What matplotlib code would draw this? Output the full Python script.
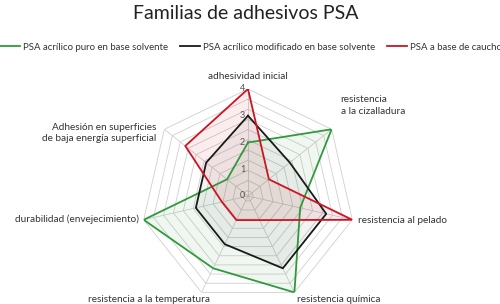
import matplotlib.pyplot as plt
import matplotlib.lines as mlines
import numpy as np

plt.rcParams['font.family'] = ['Lato', 'DejaVu Sans']

## ======= data ======== ##
categories = ['adhesividad inicial', 'resistencia\na la cizalladura', 'resistencia al pelado',
              'resistencia química', 'resistencia a la temperatura',
              'durabilidad (envejecimiento)', 'Adhesión en superficies\nde baja energía superficial']
series_names = ['PSA acrílico puro en base solvente',
                'PSA acrílico modificado en base solvente',
                'PSA a base de caucho']
acrilico_puro = [2, 4, 2, 4, 3, 4, 1]
acrilico_mod = [3, 2, 3, 3, 2, 2, 2]
caucho = [4, 1, 4, 1, 1, 1, 3]
tick_values = [0, 1, 2, 3, 4]

colors = ['#2f9a3c', '#1a1a1a', '#cc1424']
fill_alpha = [0.07, 0.05, 0.08]

n = len(categories)
theta = np.linspace(0, 2 * np.pi, n, endpoint=False)
theta_c = np.append(theta, theta[0])

fig = plt.figure(figsize=(5, 3.04), dpi=100)
ax = fig.add_axes([0.282, 0.0033, 0.428, 0.704], projection='polar')
ax.set_theta_offset(np.pi / 2)
ax.set_theta_direction(-1)
ax.set_ylim(0, 4)
ax.grid(False)
ax.spines['polar'].set_visible(False)
ax.set_xticks([])
ax.set_yticks([])
ax.patch.set_alpha(0)

# polygon grid
for r in np.linspace(0.2, 4.0, 11):
    ax.plot(theta_c, [r] * (n + 1), color='#cfcfcf', lw=0.6, zorder=1)
for t in theta:
    ax.plot([t, t], [0, 4], color='#cfcfcf', lw=0.6, zorder=1)

handles = []
for vals, name, c, al in zip([acrilico_puro, acrilico_mod, caucho], series_names, colors, fill_alpha):
    v = np.append(vals, vals[0])
    ax.fill(theta_c, v, color=c, alpha=al, lw=0, zorder=2)
    ax.plot(theta_c, v, color=c, lw=1.3, zorder=3)
    handles.append(mlines.Line2D([], [], color=c, lw=1.3, label=name))

for tv in tick_values:
    ax.annotate(str(tv), xy=(0, tv), xytext=(-2, 0), textcoords='offset points',
                ha='right', va='center', fontsize=6.5, color='#555555', zorder=4)

# category labels: (offset x, offset y, ha) in points
label_pos = [(0, 9, 'center'), (6.5, 17, 'left'), (4.3, -0.5, 'left'), (2, -5, 'left'),
             (-38, -5, 'center'), (-3.5, 0.5, 'right'), (-6, -2.5, 'right')]
for t, lab, (ox, oy, ha) in zip(theta, categories, label_pos):
    ax.annotate(lab, xy=(t, 4), xytext=(ox, oy), textcoords='offset points',
                ha=ha, va='center', multialignment=ha if ha != 'center' else 'center',
                fontsize=7.2, color='#333333', linespacing=1.35, annotation_clip=False)

fig.text(0.492, 0.955, 'Familias de adhesivos PSA', ha='center', va='center',
         fontsize=14, color='#222222')

fig.legend(handles=handles, loc='center left', bbox_to_anchor=(0.0, 0.845), ncol=3,
           frameon=False, fontsize=6.9, handlelength=2.1, handletextpad=0.25,
           columnspacing=1.3, borderaxespad=0, borderpad=0, labelcolor='#333333')

fig.savefig('out.png', dpi=100)
